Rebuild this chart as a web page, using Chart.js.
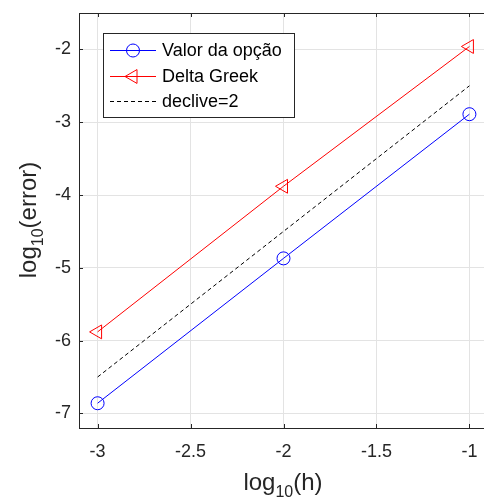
<!DOCTYPE html>
<html>
<head>
<meta charset="utf-8">
<script src="https://cdn.jsdelivr.net/npm/chart.js@4.4.1/dist/chart.umd.min.js"></script>
<style>
  html, body { margin: 0; padding: 0; background: #fff; overflow: hidden; }
  #wrap { width: 488px; height: 498px; }
</style>
</head>
<body>
<div id="wrap"><canvas id="chart" width="488" height="498"></canvas></div>
<script>
// data (log10 values)
const logH = [-3, -2, -1];
const valorOpcao = [-6.86, -4.87, -2.89];
const deltaGreek = [-5.88, -3.88, -1.96];
const declive2 = [-6.5, -4.5, -2.5];

const xTicks = [-3, -2.5, -2, -1.5, -1];
const yTicks = [-7, -6, -5, -4, -3, -2];

const FONT = '"Liberation Sans", Arial, Helvetica, sans-serif';
const AXIS_COLOR = '#262626';

function toPoints(ys) {
    return logH.map((x, i) => ({ x: x, y: ys[i] }));
}

// draws the top border, inward tick marks, axis titles and the legend box
const matlabLook = {
    id: 'matlabLook',
    afterDraw(chart) {
        const ctx = chart.ctx;
        const area = chart.chartArea;
        const xs = chart.scales.x;
        const ys = chart.scales.y;
        ctx.save();
        ctx.strokeStyle = AXIS_COLOR;
        ctx.lineWidth = 1;

        // top border
        ctx.beginPath();
        ctx.moveTo(area.left, area.top + 0.5);
        ctx.lineTo(area.right, area.top + 0.5);
        ctx.stroke();

        // inward ticks
        const tl = 4;
        ctx.beginPath();
        xTicks.forEach(v => {
            const px = Math.round(xs.getPixelForValue(v)) + 0.5;
            ctx.moveTo(px, area.bottom);
            ctx.lineTo(px, area.bottom - tl);
            ctx.moveTo(px, area.top);
            ctx.lineTo(px, area.top + tl);
        });
        yTicks.forEach(v => {
            const py = Math.round(ys.getPixelForValue(v)) + 0.5;
            ctx.moveTo(area.left, py);
            ctx.lineTo(area.left + tl, py);
        });
        ctx.stroke();

        // axis titles with subscripts
        ctx.fillStyle = AXIS_COLOR;
        ctx.textBaseline = 'alphabetic';
        const drawLabel = (pre, sub, post) => {
            ctx.font = '24px ' + FONT;
            const w1 = ctx.measureText(pre).width;
            const w3 = ctx.measureText(post).width;
            ctx.font = '16px ' + FONT;
            const w2 = ctx.measureText(sub).width;
            const total = w1 + w2 + w3;
            let x = -total / 2;
            ctx.textAlign = 'left';
            ctx.font = '24px ' + FONT;
            ctx.fillText(pre, x, 0);
            x += w1;
            ctx.font = '16px ' + FONT;
            ctx.fillText(sub, x, 7);
            x += w2;
            ctx.font = '24px ' + FONT;
            ctx.fillText(post, x, 0);
        };
        ctx.save();
        ctx.translate(283, 490);
        drawLabel('log', '10', '(h)');
        ctx.restore();
        ctx.save();
        ctx.translate(36, 220);
        ctx.rotate(-Math.PI / 2);
        drawLabel('log', '10', '(error)');
        ctx.restore();

        // legend
        const box = { l: 103.5, t: 33.5, r: 294.5, b: 117.5 };
        ctx.fillStyle = '#ffffff';
        ctx.fillRect(box.l, box.t, box.r - box.l, box.b - box.t);
        ctx.strokeStyle = AXIS_COLOR;
        ctx.strokeRect(box.l, box.t, box.r - box.l, box.b - box.t);
        const rows = [50, 76, 101];
        chart.data.datasets.forEach((ds, i) => {
            const y = rows[i] + 0.5;
            ctx.save();
            ctx.strokeStyle = ds.borderColor;
            ctx.lineWidth = 1;
            ctx.setLineDash(ds.borderDash || []);
            ctx.beginPath();
            ctx.moveTo(110, y);
            ctx.lineTo(156, y);
            ctx.stroke();
            ctx.setLineDash([]);
            if (ds.pointStyle) {
                ctx.fillStyle = 'rgba(0,0,0,0)';
                Chart.helpers.drawPoint(ctx, {
                    pointStyle: ds.pointStyle,
                    rotation: ds.pointRotation || 0,
                    radius: ds.pointRadius,
                    borderWidth: 1
                }, 133, y);
            }
            ctx.restore();
            ctx.fillStyle = '#000000';
            ctx.font = '18px ' + FONT;
            ctx.textAlign = 'left';
            ctx.textBaseline = 'middle';
            ctx.fillText(ds.label, 162, y + 1);
        });
        ctx.restore();
    }
};

const ctxChart = document.getElementById('chart').getContext('2d');
const myChart = new Chart(ctxChart, {
    type: 'line',
    data: {
        datasets: [{
            label: 'Valor da opção',
            data: toPoints(valorOpcao),
            borderColor: '#0000ff',
            backgroundColor: 'transparent',
            borderWidth: 1,
            pointStyle: 'circle',
            pointRadius: 6.5,
            pointBorderColor: '#0000ff',
            pointBackgroundColor: 'transparent',
            pointBorderWidth: 1
        }, {
            label: 'Delta Greek',
            data: toPoints(deltaGreek),
            borderColor: '#ff0000',
            backgroundColor: 'transparent',
            borderWidth: 1,
            pointStyle: 'triangle',
            pointRotation: -90,
            pointRadius: 8,
            pointBorderColor: '#ff0000',
            pointBackgroundColor: 'transparent',
            pointBorderWidth: 1
        }, {
            label: 'declive=2',
            data: toPoints(declive2),
            borderColor: '#000000',
            backgroundColor: 'transparent',
            borderWidth: 1,
            borderDash: [4, 3],
            pointRadius: 0
        }]
    },
    options: {
        responsive: false,
        animation: false,
        layout: {
            autoPadding: false,
            padding: { top: 13, left: 0, right: 0, bottom: 0 }
        },
        plugins: {
            legend: { display: false },
            tooltip: { enabled: false }
        },
        scales: {
            x: {
                type: 'linear',
                min: -3.1,
                max: -0.9,
                afterBuildTicks: scale => { scale.ticks = xTicks.map(v => ({ value: v })); },
                afterFit: scale => {
                    scale.height = 70;
                    scale.paddingLeft = 0;
                    scale.paddingRight = 0;
                },
                grid: { color: '#e3e3e3', drawTicks: false },
                border: { color: AXIS_COLOR, width: 1 },
                ticks: {
                    padding: 13,
                    color: AXIS_COLOR,
                    font: { family: FONT, size: 18 },
                    callback: v => String(v)
                }
            },
            y: {
                type: 'linear',
                min: -7.2,
                max: -1.5,
                afterBuildTicks: scale => { scale.ticks = yTicks.map(v => ({ value: v })); },
                afterFit: scale => {
                    scale.width = 79;
                    scale.paddingTop = 0;
                    scale.paddingBottom = 0;
                },
                grid: { color: '#e3e3e3', drawTicks: false },
                border: { color: AXIS_COLOR, width: 1 },
                ticks: {
                    padding: 8,
                    color: AXIS_COLOR,
                    font: { family: FONT, size: 18 },
                    callback: v => String(v)
                }
            }
        }
    },
    plugins: [matlabLook]
});
</script>
</body>
</html>
